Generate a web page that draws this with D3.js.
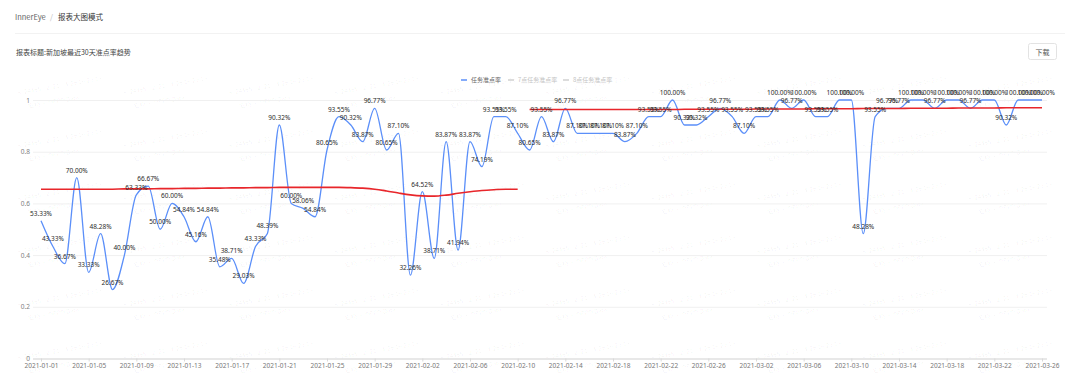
<!DOCTYPE html>
<html>
<head>
<meta charset="utf-8">
<script src="https://cdn.jsdelivr.net/npm/d3@7"></script>
<style>
  html, body { margin: 0; padding: 0; background: #fff; }
  svg { display: block; font-family: "Noto Sans CJK SC", "Noto Sans", sans-serif; }
</style>
</head>
<body>
<div id="chart"></div>
<script>
// categories: one point per day, 2021-01-01 .. 2021-03-26
var startDay = "2021-01-01";
var endDay = "2021-03-26";

// 任务准点率 (daily)
var rate = [
  0.5333, 0.4333, 0.3667, 0.7000, 0.3333, 0.4828, 0.2667, 0.4000, 0.6333, 0.6667,
  0.5000, 0.6000, 0.5484, 0.4516, 0.5484, 0.3548, 0.3871, 0.2903, 0.4333, 0.4839,
  0.9032, 0.6000, 0.5806, 0.5484, 0.8065, 0.9355, 0.9032, 0.8387, 0.9677, 0.8065,
  0.8710, 0.3226, 0.6452, 0.3871, 0.8387, 0.4194, 0.8387, 0.7419, 0.9355, 0.9355,
  0.8710, 0.8065, 0.9355, 0.8387, 0.9677, 0.8710, 0.8710, 0.8710, 0.8710, 0.8387,
  0.8710, 0.9355, 0.9355, 1.0000, 0.9032, 0.9032, 0.9355, 0.9677, 0.9355, 0.8710,
  0.9355, 0.9355, 1.0000, 0.9677, 1.0000, 0.9355, 0.9355, 1.0000, 1.0000, 0.4828,
  0.9355, 0.9677, 0.9677, 1.0000, 1.0000, 0.9677, 1.0000, 1.0000, 0.9677, 1.0000,
  1.0000, 0.9032, 1.0000, 1.0000, 1.0000
];

// red trend line, two pieces (days 0-40 and 41-84)
var trendA = [
  0.655, 0.655, 0.655, 0.655, 0.655, 0.655, 0.655, 0.656, 0.656, 0.656,
  0.657, 0.657, 0.658, 0.658, 0.659, 0.659, 0.660, 0.660, 0.661, 0.661,
  0.662, 0.662, 0.662, 0.662, 0.662, 0.662, 0.661, 0.659, 0.655, 0.648,
  0.640, 0.633, 0.629, 0.628, 0.632, 0.639, 0.645, 0.650, 0.653, 0.655, 0.655
];
var trendB = [
  0.963, 0.963, 0.963, 0.963, 0.963, 0.963, 0.963, 0.963, 0.963, 0.963,
  0.963, 0.963, 0.963, 0.964, 0.964, 0.964, 0.964, 0.964, 0.964, 0.965,
  0.965, 0.965, 0.965, 0.965, 0.966, 0.966, 0.966, 0.966, 0.967, 0.967,
  0.967, 0.967, 0.968, 0.968, 0.968, 0.968, 0.969, 0.969, 0.969, 0.969,
  0.970, 0.970, 0.970, 0.970
];

var yTicks = [0, 0.2, 0.4, 0.6, 0.8, 1];
var legendNames = ["任务准点率", "7点任务准点率", "8点任务准点率"];

var W = 1080, H = 380;
var parse = d3.timeParse("%Y-%m-%d"), fmt = d3.timeFormat("%Y-%m-%d");
var days = d3.timeDays(parse(startDay), d3.timeDay.offset(parse(endDay), 1)).map(fmt);

var svg = d3.select("#chart").append("svg")
  .attr("width", W).attr("height", H);

/* page header */
svg.append("text").attr("x", 15).attr("y", 20)
  .attr("font-size", 7.5).attr("fill", "#666").text("InnerEye");
svg.append("text").attr("x", 50).attr("y", 20)
  .attr("font-size", 7.5).attr("fill", "#bbb").text("/");
svg.append("text").attr("x", 58).attr("y", 20)
  .attr("font-size", 7.5).attr("fill", "#333").text("报表大图模式");
svg.append("line").attr("x1", 15).attr("x2", 1065).attr("y1", 33.5).attr("y2", 33.5)
  .attr("stroke", "#f2f2f2");
svg.append("text").attr("x", 16).attr("y", 55)
  .attr("font-size", 7).attr("fill", "#444").text("报表标题:新加坡最近30天准点率趋势");

// download button
svg.append("rect").attr("x", 1028.5).attr("y", 43.5).attr("width", 28).attr("height", 16)
  .attr("rx", 2).attr("fill", "#fff").attr("stroke", "#e3e3e3");
svg.append("text").attr("x", 1042.5).attr("y", 54.5).attr("text-anchor", "middle")
  .attr("font-size", 7).attr("fill", "#555").text("下载");

/* scales */
var x = d3.scalePoint().domain(days).range([41, 1042]);
var y = d3.scaleLinear().domain([0, 1]).range([358.5, 100]);

/* watermark tiles */
var wm = svg.append("g").attr("fill", "#000").attr("fill-opacity", 0.06)
  .attr("font-size", 6);
for (var r = 0; r < 6; r++) {
  for (var c = 0; c < 10; c++) {
    var g = wm.append("g")
      .attr("transform", "translate(" + (18 + c * 105.6) + "," + (95 + r * 53) + ") rotate(-10)");
    g.append("text").attr("x", 0).attr("y", 0).text("80244550/2021/04/26 16:29:19");
    g.append("text").attr("x", 8).attr("y", 15).text("安翔 · OPPO Data");
  }
}

/* y grid + labels */
var yAxis = svg.append("g").attr("transform", "translate(33,0)")
  .call(d3.axisLeft(y).tickValues(yTicks).tickSize(-1014).tickPadding(3)
    .tickFormat(function(d) { return d3.format("~g")(d); }));
yAxis.select(".domain").remove();
yAxis.selectAll(".tick line").attr("stroke", "#f0f0f0");
yAxis.selectAll(".tick text").attr("font-size", 6.5).attr("fill", "#808080")
  .attr("font-family", "Noto Sans, sans-serif");

/* x axis */
var xAxis = svg.append("g").attr("transform", "translate(0,358.5)")
  .call(d3.axisBottom(x)
    .tickValues(days.filter(function(d, i) { return i % 4 === 0; }))
    .tickSize(3).tickSizeOuter(0).tickPadding(2));
xAxis.select(".domain").attr("stroke", "#d9d9d9").attr("d", "M33,0.5H1047");
xAxis.selectAll(".tick line").attr("stroke", "#d9d9d9");
xAxis.selectAll(".tick text").attr("font-size", 6.5).attr("fill", "#777")
  .attr("font-family", "Noto Sans, sans-serif");

/* blue series */
var line = d3.line()
  .x(function(d) { return x(d.day); })
  .y(function(d) { return y(d.v); })
  .curve(d3.curveMonotoneX);

var rateData = rate.map(function(v, i) { return { day: days[i], v: v }; });

svg.append("path").datum(rateData)
  .attr("d", line).attr("fill", "none")
  .attr("stroke", "#5b8ff9").attr("stroke-width", 1.3);

/* red trend */
var trendData = [
  trendA.map(function(v, i) { return { day: days[i], v: v }; }),
  trendB.map(function(v, i) { return { day: days[i + trendA.length], v: v }; })
];
svg.selectAll(".trend").data(trendData).enter().append("path")
  .attr("class", "trend")
  .attr("d", line).attr("fill", "none")
  .attr("stroke", "#e8262b").attr("stroke-width", 1.6);

/* point labels */
svg.selectAll(".lbl").data(rateData).enter().append("text")
  .attr("class", "lbl")
  .attr("x", function(d) { return x(d.day); })
  .attr("y", function(d) { return y(d.v) - 5; })
  .attr("text-anchor", "middle")
  .attr("font-size", 6.5)
  .attr("font-family", "Noto Sans, sans-serif")
  .attr("fill", "#2b2b2b")
  .text(function(d) { return d3.format(".2f")(d.v * 100) + "%"; });

/* legend */
var legendX = [461, 508, 563];
var legendColor = ["#5b8ff9", "#d0d0d0", "#d0d0d0"];
var legendText = ["#666", "#c4c4c4", "#c4c4c4"];
var lg = svg.selectAll(".legend").data(legendNames).enter().append("g")
  .attr("class", "legend")
  .attr("transform", function(d, i) { return "translate(" + legendX[i] + ",80)"; });
lg.append("line").attr("x1", 0).attr("x2", 6).attr("y1", 0).attr("y2", 0)
  .attr("stroke-width", 1.5)
  .attr("stroke", function(d, i) { return legendColor[i]; });
lg.append("text").attr("x", 10).attr("y", 2.3)
  .attr("font-size", 6)
  .attr("fill", function(d, i) { return legendText[i]; })
  .text(function(d) { return d; });
</script>
</body>
</html>
